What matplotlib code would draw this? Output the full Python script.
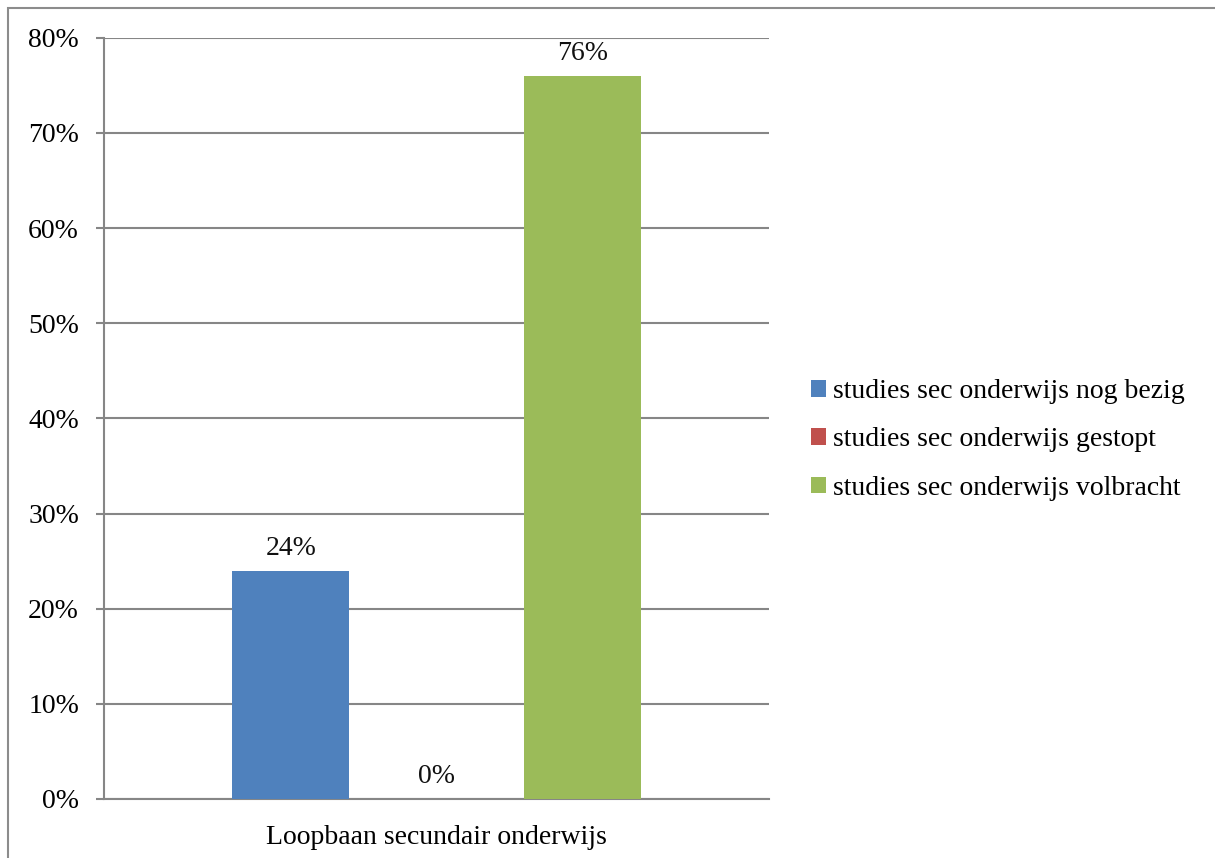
import matplotlib
matplotlib.use("Agg")
import matplotlib.pyplot as plt
from matplotlib.patches import Rectangle
from matplotlib.ticker import PercentFormatter

category = "Loopbaan secundair onderwijs"
series = ["studies sec onderwijs nog bezig",
          "studies sec onderwijs gestopt",
          "studies sec onderwijs volbracht"]
values = [24, 0, 76]
colors = ["#4F81BD", "#C0504D", "#9BBB59"]
yticks = [0, 10, 20, 30, 40, 50, 60, 70, 80]

plt.rcParams['font.family'] = ['Liberation Serif', 'DejaVu Serif']
W, H = 1215, 858
fig = plt.figure(figsize=(W/100, H/100), dpi=100)
fig.patches.append(Rectangle((8/W, -0.1), 1.2, 1 - 8/H + 0.1, transform=fig.transFigure,
                             fill=False, edgecolor="#8c8c8c", linewidth=1.5))

ax = fig.add_axes([104/W, 1 - 799/H, (769-104)/W, (799-37.7)/H])
gray = "#868686"
fs = 20
spacing = 0.219
width = 0.176
for i, (s, v, c) in enumerate(zip(series, values, colors)):
    x = (i - 1) * spacing
    ax.bar(x, v, width=width, color=c, label=s, zorder=3)
    ax.annotate(f"{v}%", (x, v), xytext=(0, 16), textcoords="offset points",
                ha="center", va="center", fontsize=fs, color="#111111")

ax.set_xlim(-0.5, 0.5)
ax.set_ylim(0, 80)
ax.set_yticks(yticks)
ax.yaxis.set_major_formatter(PercentFormatter(decimals=0))
ax.set_xticks([0])
ax.set_xticklabels([category])
ax.tick_params(axis="x", length=0, pad=19, labelsize=fs)
ax.tick_params(axis="y", length=6, width=1.5, color=gray, pad=12, labelsize=fs)
ax.grid(axis="y", color=gray, linewidth=1.5, zorder=0)
for sp in ["top", "right"]:
    ax.spines[sp].set_visible(False)
for sp in ["left", "bottom"]:
    ax.spines[sp].set_color(gray)
    ax.spines[sp].set_linewidth(1.5)

leg = ax.legend(loc="center left", bbox_to_anchor=(811/W, 1 - 440/H),
                bbox_transform=fig.transFigure, frameon=False, fontsize=fs,
                handlelength=0.55, handleheight=0.55, handletextpad=0.25,
                labelspacing=0.84, borderpad=0, borderaxespad=0)

fig.savefig("out.png", dpi=100)
